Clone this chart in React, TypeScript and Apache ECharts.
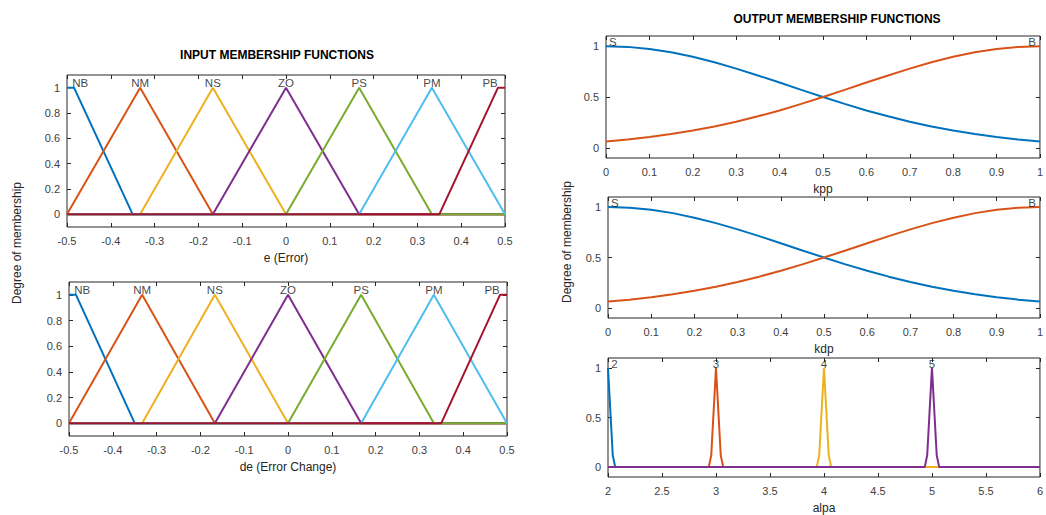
import React, { useEffect, useRef } from "react";
import * as echarts from "echarts";

// ---------- data ----------
const inputLabels = ["NB", "NM", "NS", "ZO", "PS", "PM", "PB"];
const inputLabelX = [-0.47, -0.333, -0.167, 0, 0.167, 0.333, 0.466];
const inputXTicks = [-0.5, -0.4, -0.3, -0.2, -0.1, 0, 0.1, 0.2, 0.3, 0.4, 0.5];
const inputYTicks = [0, 0.2, 0.4, 0.6, 0.8, 1];

const mfNB = [[-0.5, 1], [-0.484, 1], [-0.35, 0], [0.5, 0]];
const mfNM = [[-0.5, 0], [-0.333, 1], [-0.167, 0], [0.5, 0]];
const mfNS = [[-0.5, 0], [-0.333, 0], [-0.167, 1], [0, 0], [0.5, 0]];
const mfZO = [[-0.5, 0], [-0.167, 0], [0, 1], [0.167, 0], [0.5, 0]];
const mfPS = [[-0.5, 0], [0, 0], [0.167, 1], [0.333, 0], [0.5, 0]];
const mfPM = [[-0.5, 0], [0.167, 0], [0.333, 1], [0.5, 0]];
const mfPB = [[-0.5, 0], [0.35, 0], [0.484, 1], [0.5, 1]];

const outX = [0, 0.05, 0.1, 0.15, 0.2, 0.25, 0.3, 0.35, 0.4, 0.45, 0.5, 0.55, 0.6, 0.65, 0.7, 0.75, 0.8, 0.85, 0.9, 0.95, 1];
const outS = [1, 0.993, 0.973, 0.94, 0.895, 0.841, 0.779, 0.712, 0.642, 0.57, 0.5, 0.432, 0.368, 0.31, 0.257, 0.21, 0.17, 0.135, 0.106, 0.082, 0.063];
const outB = [0.063, 0.082, 0.106, 0.135, 0.17, 0.21, 0.257, 0.31, 0.368, 0.432, 0.5, 0.57, 0.642, 0.712, 0.779, 0.841, 0.895, 0.94, 0.973, 0.993, 1];
const outLabels = ["S", "B"];
const outLabelX = [0.016, 0.982];
const outXTicks = [0, 0.1, 0.2, 0.3, 0.4, 0.5, 0.6, 0.7, 0.8, 0.9, 1];
const outYTicks = [0, 0.5, 1];

const alpa2 = [[2, 1], [2.022, 0.56], [2.044, 0.12], [2.067, 0], [6, 0]];
const alpa3 = [[2, 0], [2.933, 0], [2.956, 0.12], [2.978, 0.56], [3, 1], [3.022, 0.56], [3.044, 0.12], [3.067, 0], [6, 0]];
const alpa4 = [[2, 0], [3.933, 0], [3.956, 0.12], [3.978, 0.56], [4, 1], [4.022, 0.56], [4.044, 0.12], [4.067, 0], [6, 0]];
const alpa5 = [[2, 0], [4.933, 0], [4.956, 0.12], [4.978, 0.56], [5, 1], [5.022, 0.56], [5.044, 0.12], [5.067, 0], [6, 0]];
const alpaLabels = ["2", "3", "4", "5"];
const alpaLabelX = [2.06, 3, 4, 5];
const alpaXTicks = [2, 2.5, 3, 3.5, 4, 4.5, 5, 5.5, 6];

const COLORS = ["#0072BD", "#D95319", "#EDB120", "#7E2F8E", "#77AC30", "#4DBEEE", "#A2142F"];
const FONT = "'Liberation Sans', Arial, Helvetica, sans-serif";
const AX = "#262626";
const TICKC = "#404040";

const grids = [
  { left: 67, top: 75, width: 438, height: 152 },
  { left: 69, top: 282, width: 438, height: 154 },
  { left: 606, top: 36, width: 438, height: 122 },
  { left: 608, top: 197, width: 437, height: 121 },
  { left: 608, top: 358, width: 437, height: 122 },
];

function axesFor(gi: number, xmin: number, xmax: number, xt: number[], yt: number[], name: string) {
  const tick = { show: true, inside: true, length: 4, lineStyle: { color: AX } };
  const noLine = { show: false, onZero: false };
  const xs = [
    {
      type: "value", gridIndex: gi, min: xmin, max: xmax, position: "bottom",
      axisLine: noLine, splitLine: { show: false },
      axisTick: { ...tick, customValues: xt },
      axisLabel: { customValues: xt, color: TICKC, fontSize: 11, fontFamily: FONT, margin: 8, showMinLabel: true, showMaxLabel: true, hideOverlap: false },
      name, nameLocation: "middle", nameGap: 25,
      nameTextStyle: { color: AX, fontSize: 12, fontFamily: FONT },
    },
    {
      type: "value", gridIndex: gi, min: xmin, max: xmax, position: "top",
      axisLine: noLine, splitLine: { show: false },
      axisTick: { ...tick, customValues: xt }, axisLabel: { show: false },
    },
  ];
  const ys = [
    {
      type: "value", gridIndex: gi, min: -0.1, max: 1.1, position: "left",
      axisLine: noLine, splitLine: { show: false },
      axisTick: { ...tick, customValues: yt },
      axisLabel: { customValues: yt, color: TICKC, fontSize: 11, fontFamily: FONT, margin: 7 },
    },
    {
      type: "value", gridIndex: gi, min: -0.1, max: 1.1, position: "right",
      axisLine: noLine, splitLine: { show: false },
      axisTick: { ...tick, customValues: yt }, axisLabel: { show: false },
    },
  ];
  return { xs, ys };
}

function lineSeries(gi: number, data: number[][], color: string) {
  return {
    type: "line", xAxisIndex: gi * 2, yAxisIndex: gi * 2, data,
    showSymbol: false, symbol: "none", lineStyle: { color, width: 2 }, itemStyle: { color },
    z: 2,
  };
}

function labelSeries(gi: number, names: string[], xs: number[]) {
  return {
    type: "scatter", xAxisIndex: gi * 2, yAxisIndex: gi * 2,
    symbolSize: 1, itemStyle: { color: "rgba(0,0,0,0)" }, z: 5,
    data: names.map((n, i) => ({ name: n, value: [xs[i], 1.04] })),
    label: { show: true, position: "inside", formatter: "{b}", color: "#111", fontSize: 11.5, fontFamily: FONT },
    silent: true,
  };
}

export default function App() {
  const ref = useRef<HTMLDivElement>(null);
  useEffect(() => {
    if (!ref.current) return;
    const chart = echarts.init(ref.current, null, { renderer: "svg" });
    const a0 = axesFor(0, -0.5, 0.5, inputXTicks, inputYTicks, "e (Error)");
    const a1 = axesFor(1, -0.5, 0.5, inputXTicks, inputYTicks, "de (Error Change)");
    const a2 = axesFor(2, 0, 1, outXTicks, outYTicks, "kpp");
    const a3 = axesFor(3, 0, 1, outXTicks, outYTicks, "kdp");
    const a4 = axesFor(4, 2, 6, alpaXTicks, outYTicks, "alpa");
    const all = [a0, a1, a2, a3, a4];
    const inputMfs = [mfNB, mfNM, mfNS, mfZO, mfPS, mfPM, mfPB];
    const series: any[] = [];
    [0, 1].forEach((gi) => {
      inputMfs.forEach((d, i) => series.push(lineSeries(gi, d, COLORS[i])));
      series.push(labelSeries(gi, inputLabels, inputLabelX));
    });
    [2, 3].forEach((gi) => {
      series.push(lineSeries(gi, outX.map((x, i) => [x, outS[i]]), COLORS[0]));
      series.push(lineSeries(gi, outX.map((x, i) => [x, outB[i]]), COLORS[1]));
      series.push(labelSeries(gi, outLabels, outLabelX));
    });
    [alpa2, alpa3, alpa4, alpa5].forEach((d, i) => series.push(lineSeries(4, d, COLORS[i])));
    series.push(labelSeries(4, alpaLabels, alpaLabelX));

    chart.setOption({
      animation: false,
      backgroundColor: "#ffffff",
      grid: grids.map((g) => ({ ...g, show: true, borderColor: AX, borderWidth: 1, backgroundColor: "transparent", containLabel: false })),
      xAxis: all.flatMap((a) => a.xs),
      yAxis: all.flatMap((a) => a.ys),
      series,
      graphic: [
        { type: "text", x: 277, y: 55, style: { text: "INPUT MEMBERSHIP FUNCTIONS", font: `bold 12px ${FONT}`, fill: "#000", textAlign: "center", textVerticalAlign: "middle" } },
        { type: "text", x: 837, y: 19, style: { text: "OUTPUT MEMBERSHIP FUNCTIONS", font: `bold 12px ${FONT}`, fill: "#000", textAlign: "center", textVerticalAlign: "middle" } },
        { type: "text", x: 17, y: 243, rotation: Math.PI / 2, style: { text: "Degree of membership", font: `12px ${FONT}`, fill: AX, textAlign: "center", textVerticalAlign: "middle" } },
        { type: "text", x: 567, y: 242, rotation: Math.PI / 2, style: { text: "Degree of membership", font: `12px ${FONT}`, fill: AX, textAlign: "center", textVerticalAlign: "middle" } },
      ],
    });
    return () => chart.dispose();
  }, []);
  return <div ref={ref} style={{ position: "absolute", left: 0, top: 0, width: 1046, height: 515 }} />;
}
